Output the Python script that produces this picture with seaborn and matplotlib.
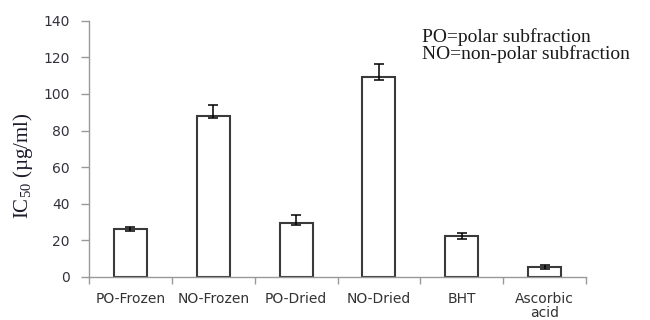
import matplotlib
matplotlib.use("Agg")
import matplotlib.pyplot as plt
import seaborn as sns
import pandas as pd
from matplotlib.ticker import FixedLocator

# IC50 values (µg/ml) with lower / upper error extents
categories = ["PO-Frozen", "NO-Frozen", "PO-Dried", "NO-Dried", "BHT", "Ascorbic\nacid"]
ic50 = [26.2, 88.0, 29.5, 109.5, 22.4, 5.5]
err_low = [1.2, 1.0, 1.2, 1.8, 1.5, 1.0]
err_high = [1.3, 5.9, 4.4, 7.0, 1.8, 0.9]
yticks = [0, 20, 40, 60, 80, 100, 120, 140]
legend_note = "PO=polar subfraction\nNO=non-polar subfraction"

sns.set_theme(style="white")
plt.rcParams["font.family"] = ["DejaVu Sans"]
plt.rcParams["mathtext.fontset"] = "custom"
plt.rcParams["mathtext.rm"] = "Liberation Serif"

df = pd.DataFrame({"sample": categories, "ic50": ic50})

fig = plt.figure(figsize=(6.5, 3.2), dpi=100)
ax = fig.add_axes([89 / 650, 43 / 320, 497 / 650, 256.3 / 320])

sns.barplot(data=df, x="sample", y="ic50", ax=ax, color="white",
            edgecolor="#3a3a3a", linewidth=1.5, width=0.4, errorbar=None,
            saturation=1)

centers = [p.get_x() + p.get_width() / 2 for p in ax.patches]
ax.errorbar(centers, ic50, yerr=[err_low, err_high], fmt="none",
            ecolor="black", elinewidth=1.1, capsize=3.5, capthick=1.1)

ax.set_ylim(0, 140)
ax.set_xlim(-0.5, len(categories) - 0.5)
ax.set_yticks(yticks)
ax.set_yticklabels([str(t) for t in yticks], fontsize=10, color="#333340")
ax.set_xticks(range(len(categories)))
ax.set_xticklabels(categories, fontsize=10, color="#333333", linespacing=1.0)
ax.xaxis.set_minor_locator(FixedLocator([i - 0.5 for i in range(len(categories) + 1)]))
ax.tick_params(axis="x", which="major", length=0, pad=11)
ax.tick_params(axis="x", which="minor", length=5, width=1, color="#999999", bottom=True)
ax.tick_params(axis="y", length=6, width=1, color="#999999", left=True, pad=8)

ax.set_xlabel("")
ax.set_ylabel(r"IC$_\mathrm{50}$ (µg/ml)", fontsize=15, family="Liberation Serif",
              color="#1c1c2c")
ax.yaxis.set_label_coords(-0.108, 0.435)

for side in ("top", "right"):
    ax.spines[side].set_visible(False)
for side in ("left", "bottom"):
    ax.spines[side].set_color("#999999")
    ax.spines[side].set_linewidth(1)

fig.text(422 / 650, 1 - 59 / 320, legend_note, family="Liberation Serif",
         fontsize=14, color="#1a1a1a", va="baseline", linespacing=0.95)

fig.savefig("out.png", dpi=100, facecolor="white")
